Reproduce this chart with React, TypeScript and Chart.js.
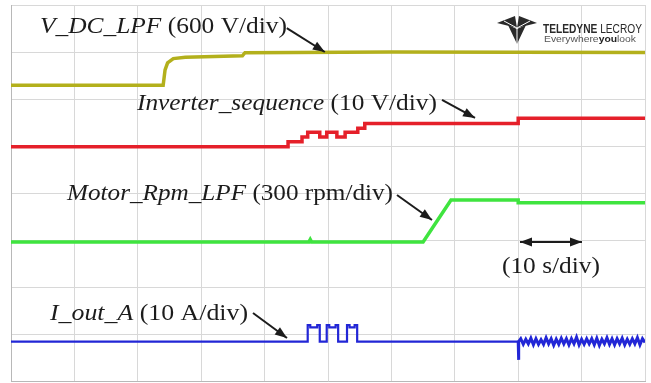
import React, { useEffect, useRef } from "react";
import { Chart, registerables } from "chart.js";

Chart.register(...registerables);

// Time axis: 10 s/div, 10 divisions. Vertical: 8 divisions (screen divisions).
const xTicks = [0, 10, 20, 30, 40, 50, 60, 70, 80, 90, 100];

// V_DC_LPF (600 V/div)
const vdcT = [0, 24.0, 24.3, 24.7, 25.6, 27.5, 36.5, 36.9, 60, 100];
const vdcY = [6.29, 6.29, 6.62, 6.77, 6.86, 6.89, 6.92, 6.985, 7.0, 6.99];

// Inverter_sequence (10 V/div) - stepped
const invT = [0, 43.7, 45.9, 46.8, 48.7, 49.8, 51.4, 52.7, 54.7, 55.8, 80.0, 100];
const invY = [4.985, 5.09, 5.19, 5.29, 5.19, 5.29, 5.19, 5.29, 5.38, 5.48, 5.59, 5.59];

// Motor_Rpm_LPF (300 rpm/div)
const rpmT = [0, 47.0, 47.2, 47.4, 65.0, 69.4, 80.0, 80.0, 100];
const rpmY = [2.96, 2.96, 3.01, 2.96, 2.96, 3.85, 3.85, 3.79, 3.79];

// I_out_A (10 A/div) - stepped part
const iT = [0, 46.8, 47.2, 48.3, 48.7, 49.8, 50.2, 51.2, 51.6, 53.0, 53.4, 54.2, 54.6, 80.0];
const iY = [0.836, 1.19, 1.14, 1.19, 0.836, 1.19, 1.14, 1.19, 0.836, 1.19, 1.14, 1.19, 0.836, 0.836];

// I_out_A noisy section after 80 s
const iNoiseT = [
  80.0, 80.05, 80.1, 80.4, 80.8, 81.2, 81.6, 82.0, 82.4, 82.8, 83.2, 83.6, 84.0, 84.4, 84.8,
  85.2, 85.6, 86.0, 86.4, 86.8, 87.2, 87.6, 88.0, 88.4, 88.8, 89.2, 89.6, 90.0, 90.4,
  90.8, 91.2, 91.6, 92.0, 92.4, 92.8, 93.2, 93.6, 94.0, 94.4, 94.8, 95.2, 95.6, 96.0,
  96.4, 96.8, 97.2, 97.6, 98.0, 98.4, 98.8, 99.2, 99.6, 100.0,
];
const iNoiseY = [
  0.836, 0.45, 0.84, 0.90, 0.78, 0.89, 0.79, 0.91, 0.77, 0.90, 0.78, 0.88, 0.78, 0.92,
  0.79, 0.90, 0.76, 0.89, 0.78, 0.91, 0.79, 0.90, 0.77, 0.90, 0.79, 0.93, 0.77, 0.89,
  0.78, 0.90, 0.79, 0.90, 0.77, 0.91, 0.76, 0.89, 0.79, 0.92, 0.78, 0.90, 0.77, 0.90,
  0.79, 0.91, 0.77, 0.89, 0.78, 0.90, 0.79, 0.92, 0.77, 0.90, 0.82,
];

const labels = [
  { it: "V_DC_LPF", rest: " (600 V/div)", x: 4.57, y: 7.4, w: 247 },
  { it: "Inverter_sequence", rest: " (10 V/div)", x: 19.87, y: 5.766, w: 300 },
  { it: "Motor_Rpm_LPF", rest: " (300 rpm/div)", x: 8.83, y: 3.85, w: 326 },
  { it: "", rest: "(10 s/div)", x: 77.44, y: 2.3, w: 98 },
  { it: "I_out_A", rest: " (10 A/div)", x: 6.15, y: 1.298, w: 198 },
];

const arrows = [
  { x1: 43.5, y1: 7.51, x2: 49.5, y2: 7.0, both: false },
  { x1: 67.98, y1: 5.98, x2: 73.19, y2: 5.596, both: false },
  { x1: 60.88, y1: 3.957, x2: 66.4, y2: 3.426, both: false },
  { x1: 80.28, y1: 2.957, x2: 90.06, y2: 2.957, both: true },
  { x1: 38.17, y1: 1.447, x2: 43.53, y2: 0.915, both: false },
];

const pts = (t: number[], y: number[]) => t.map((v, i) => ({ x: v, y: y[i] }));

function drawHead(ctx: CanvasRenderingContext2D, x1: number, y1: number, x2: number, y2: number) {
  const a = Math.atan2(y2 - y1, x2 - x1);
  const L = 12, W = 4.5;
  ctx.beginPath();
  ctx.moveTo(x2, y2);
  ctx.lineTo(x2 - L * Math.cos(a) + W * Math.sin(a), y2 - L * Math.sin(a) - W * Math.cos(a));
  ctx.lineTo(x2 - L * Math.cos(a) - W * Math.sin(a), y2 - L * Math.sin(a) + W * Math.cos(a));
  ctx.closePath();
  ctx.fill();
}

const annotPlugin = {
  id: "annot",
  afterDraw(chart: any) {
    const ctx: CanvasRenderingContext2D = chart.ctx;
    const xs = chart.scales.x, ys = chart.scales.y;
    ctx.save();
    ctx.fillStyle = "#1c1c1c";
    ctx.strokeStyle = "#1c1c1c";
    ctx.textBaseline = "alphabetic";
    ctx.textAlign = "left";
    const fi = "italic 23px 'Liberation Serif', serif";
    const fr = "23px 'Liberation Serif', serif";
    for (const l of labels) {
      ctx.font = fi;
      const wi = l.it ? ctx.measureText(l.it).width : 0;
      ctx.font = fr;
      const wr = ctx.measureText(l.rest).width;
      const sx = l.w / (wi + wr);
      const px = xs.getPixelForValue(l.x), py = ys.getPixelForValue(l.y);
      ctx.save();
      ctx.translate(px, py);
      ctx.scale(sx, 1);
      if (l.it) {
        ctx.font = fi;
        ctx.fillText(l.it, 0, 0);
      }
      ctx.font = fr;
      ctx.fillText(l.rest, wi, 0);
      ctx.restore();
    }
    ctx.lineWidth = 2;
    for (const a of arrows) {
      const x1 = xs.getPixelForValue(a.x1), y1 = ys.getPixelForValue(a.y1);
      const x2 = xs.getPixelForValue(a.x2), y2 = ys.getPixelForValue(a.y2);
      ctx.beginPath();
      ctx.moveTo(x1, y1);
      ctx.lineTo(x2, y2);
      ctx.stroke();
      drawHead(ctx, x1, y1, x2, y2);
      if (a.both) drawHead(ctx, x2, y2, x1, y1);
    }
    // Logo
    const ca = chart.chartArea;
    const lx = ca.right - 148, ly = ca.top + 11;
    ctx.fillStyle = "#2a2a2a";
    ctx.beginPath();
    ctx.moveTo(lx, ly + 7); ctx.lineTo(lx + 18, ly); ctx.lineTo(lx + 20, ly + 12); ctx.closePath(); ctx.fill();
    ctx.beginPath();
    ctx.moveTo(lx + 40, ly + 7); ctx.lineTo(lx + 22, ly); ctx.lineTo(lx + 20, ly + 12); ctx.closePath(); ctx.fill();
    ctx.beginPath();
    ctx.moveTo(lx + 11, ly + 9); ctx.lineTo(lx + 20, ly + 28); ctx.lineTo(lx + 29, ly + 9); ctx.lineTo(lx + 20, ly + 13); ctx.closePath(); ctx.fill();
    ctx.strokeStyle = "#ffffff";
    ctx.lineWidth = 1;
    ctx.beginPath();
    ctx.moveTo(lx + 20, ly + 12); ctx.lineTo(lx + 20, ly + 28);
    ctx.moveTo(lx + 20, ly + 12); ctx.lineTo(lx + 7, ly + 5);
    ctx.moveTo(lx + 20, ly + 12); ctx.lineTo(lx + 33, ly + 5);
    ctx.stroke();
    ctx.fillStyle = "#2a2a2a";
    ctx.font = "bold 11px 'Liberation Sans Narrow', 'Liberation Sans', sans-serif";
    const t1 = "TELEDYNE";
    const w1 = ctx.measureText(t1).width;
    ctx.font = "11px 'Liberation Sans Narrow', 'Liberation Sans', sans-serif";
    const t2 = " LECROY";
    const w2 = ctx.measureText(t2).width;
    const s1 = 99 / (w1 + w2);
    ctx.save();
    ctx.translate(lx + 46, ly + 17);
    ctx.scale(s1, 1.1);
    ctx.font = "bold 11px 'Liberation Sans Narrow', 'Liberation Sans', sans-serif";
    ctx.fillText(t1, 0, 0);
    ctx.font = "11px 'Liberation Sans Narrow', 'Liberation Sans', sans-serif";
    ctx.fillText(t2, w1, 0);
    ctx.restore();
    ctx.fillStyle = "#555";
    ctx.font = "8.5px 'Liberation Sans Narrow', 'Liberation Sans', sans-serif";
    const e1 = "Everywhere", e3 = "look";
    const we1 = ctx.measureText(e1).width;
    ctx.font = "bold 8.5px 'Liberation Sans Narrow', 'Liberation Sans', sans-serif";
    const we2 = ctx.measureText("you").width;
    ctx.font = "8.5px 'Liberation Sans Narrow', 'Liberation Sans', sans-serif";
    const we3 = ctx.measureText(e3).width;
    const s2 = 92 / (we1 + we2 + we3);
    ctx.save();
    ctx.translate(lx + 47, ly + 25.5);
    ctx.scale(s2, 1);
    ctx.fillText(e1, 0, 0);
    ctx.fillStyle = "#222";
    ctx.font = "bold 8.5px 'Liberation Sans Narrow', 'Liberation Sans', sans-serif";
    ctx.fillText("you", we1, 0);
    ctx.fillStyle = "#555";
    ctx.font = "8.5px 'Liberation Sans Narrow', 'Liberation Sans', sans-serif";
    ctx.fillText(e3, we1 + we2, 0);
    ctx.restore();
    ctx.restore();
  },
};

export default function App() {
  const ref = useRef<HTMLCanvasElement | null>(null);
  useEffect(() => {
    document.body.style.margin = "0";
    const chart = new Chart(ref.current as HTMLCanvasElement, {
      type: "line",
      data: {
        datasets: [
          { label: "V_DC_LPF", data: pts(vdcT, vdcY), borderColor: "#b3b01c", borderWidth: 3.5 },
          { label: "Inverter_sequence", data: pts(invT, invY), borderColor: "#e5202a", borderWidth: 3.5, stepped: "before" },
          { label: "Motor_Rpm_LPF", data: pts(rpmT, rpmY), borderColor: "#3fe43f", borderWidth: 3.5 },
          { label: "I_out_A", data: pts(iT, iY), borderColor: "#2226d6", borderWidth: 2.2, stepped: "before" },
          { label: "I_out_A noise", data: pts(iNoiseT, iNoiseY), borderColor: "#2226d6", borderWidth: 3 },
        ],
      },
      options: {
        animation: false,
        responsive: false,
        parsing: true,
        layout: { padding: { left: 11, top: 5, right: 6, bottom: 2 } },
        elements: { point: { radius: 0 }, line: { tension: 0 } },
        plugins: { legend: { display: false }, tooltip: { enabled: false } },
        scales: {
          x: {
            type: "linear",
            min: 0,
            max: 100,
            afterBuildTicks: (s: any) => { s.ticks = xTicks.map((v) => ({ value: v })); },
            ticks: { display: false },
            grid: { color: "#d8d8d8", lineWidth: 1, drawTicks: false },
            border: { color: "#b8b8b8", width: 1 },
          },
          y: {
            type: "linear",
            min: 0,
            max: 8,
            ticks: { display: false, stepSize: 1 },
            grid: { color: "#d8d8d8", lineWidth: 1, drawTicks: false },
            border: { color: "#b8b8b8", width: 1 },
          },
        },
      },
      plugins: [annotPlugin],
    } as any);
    return () => chart.destroy();
  }, []);
  return (
    <div style={{ width: 651, height: 383, background: "#fff" }}>
      <canvas ref={ref} width={651} height={383} style={{ display: "block" }} />
    </div>
  );
}
